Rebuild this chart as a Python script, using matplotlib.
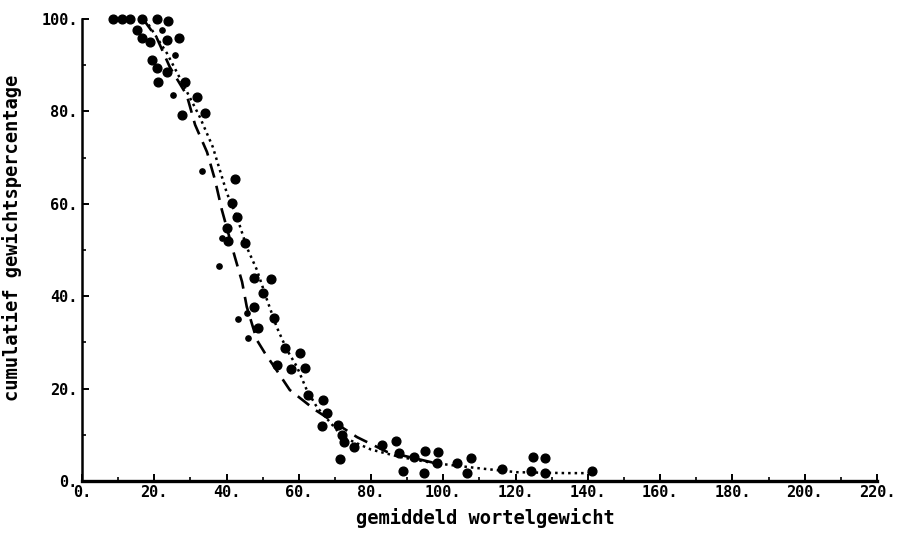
import matplotlib.pyplot as plt

# grote punten (gemeten)
big_x = [8.6, 11.1, 13.3, 16.6, 20.7, 23.8, 15.2, 16.6, 18.8, 23.5, 26.8, 19.4,
         20.7, 23.5, 21.0, 28.5, 31.8, 27.7, 34.0, 42.3, 41.5, 42.9, 40.1, 40.4,
         45.1, 47.6, 52.3, 50.1, 47.6, 53.1, 48.7, 56.2, 60.3, 53.9, 57.8, 61.7,
         62.5, 66.7, 67.8, 66.4, 70.8, 71.9, 72.5, 75.2, 71.4, 83.0, 86.9, 87.7,
         91.8, 94.9, 98.5, 88.8, 94.6, 98.2, 103.7, 107.6, 106.5, 116.2, 124.8,
         128.1, 124.2, 128.1, 141.1]
big_y = [100.0, 100.0, 100.0, 100.0, 100.0, 99.6, 97.6, 95.9, 95.0, 95.5, 95.9, 91.1,
         89.4, 88.5, 86.4, 86.4, 83.1, 79.2, 79.7, 65.4, 60.2, 57.1, 54.8, 51.9,
         51.5, 43.9, 43.7, 40.7, 37.7, 35.3, 33.1, 28.8, 27.7, 25.1, 24.2, 24.5,
         18.6, 17.5, 14.7, 11.9, 12.1, 10.0, 8.4, 7.4, 4.8, 7.8, 8.7, 6.1,
         5.2, 6.5, 6.3, 2.2, 1.7, 3.9, 3.9, 5.0, 1.7, 2.6, 5.2,
         5.0, 2.2, 1.7, 2.2]

# kleine punten
small_x = [22.1, 25.7, 25.2, 33.2, 38.7, 37.9, 45.6, 43.2, 45.9]
small_y = [97.6, 92.2, 83.5, 67.1, 52.6, 46.5, 36.4, 35.1, 31.0]

# gestreepte curve
dash_x = [16.9, 20.7, 24.3, 29.0, 31.3, 34.6, 36.8, 38.7, 42.3, 44.3, 45.6, 48.4,
          50.6, 53.4, 57.5, 64.5, 76.1, 84.4, 91.6, 97.0]
dash_y = [100.0, 95.9, 89.6, 83.5, 77.1, 71.2, 65.2, 58.7, 48.5, 43.1, 37.7, 30.5,
          27.7, 24.5, 19.7, 15.4, 9.5, 6.3, 5.0, 4.0]

# gestippelde curve
dot_x = [17.5, 18.8, 23.5, 27.1, 32.6, 36.2, 40.1, 42.9, 45.6, 48.4, 51.2, 53.9,
         56.7, 59.5, 62.2, 65.0, 72.2, 80.0, 88.0, 97.1, 109.3, 120.3, 134.2, 140.5]
dot_y = [100.0, 98.3, 92.6, 87.2, 78.8, 72.3, 62.3, 57.1, 50.6, 45.7, 39.2, 33.3,
         28.4, 24.7, 19.7, 16.0, 9.5, 6.8, 5.2, 3.9, 2.8, 1.9, 1.7, 1.7]

xticks = list(range(0, 221, 20))
yticks = list(range(0, 101, 20))

plt.rcParams['font.family'] = ['DejaVu Sans Mono']
plt.rcParams['font.weight'] = 'bold'

fig = plt.figure(figsize=(8.97, 5.54), dpi=100)
ax = fig.add_axes([0.0914, 0.1318, 0.8863, 0.8339])

ax.plot(dash_x, dash_y, color='black', lw=1.9, linestyle=(0, (5.5, 3.2)), clip_on=False)
ax.plot(dot_x, dot_y, color='black', lw=1.8, linestyle=(0, (1.0, 1.6)), clip_on=False)
ax.plot(big_x, big_y, 'o', color='black', markersize=6.3, clip_on=False)
ax.plot(small_x, small_y, 'o', color='black', markersize=3.8, clip_on=False)

ax.set_xlim(0, 220)
ax.set_ylim(0, 100)
ax.set_xticks(xticks)
ax.set_xticklabels([f'{t}.' for t in xticks])
ax.set_yticks(yticks)
ax.set_yticklabels([f'{t}.' for t in yticks])
ax.set_xticks(range(10, 220, 20), minor=True)
ax.set_yticks(range(10, 100, 20), minor=True)

for s in ['top', 'right']:
    ax.spines[s].set_visible(False)
ax.spines['bottom'].set_linewidth(2.4)
ax.spines['left'].set_linewidth(1.8)

ax.tick_params(axis='both', which='major', direction='in', length=5, width=1.4,
               labelsize=11, pad=3)
ax.tick_params(axis='both', which='minor', direction='in', length=3, width=1.2)

ax.set_xlabel('gemiddeld wortelgewicht', fontsize=13.5, fontweight='bold')
ax.set_ylabel('cumulatief gewichtspercentage', fontsize=13.5, fontweight='bold')
ax.xaxis.set_label_coords(0.508, -0.058)
ax.yaxis.set_label_coords(-0.075, 0.526)

fig.savefig('out.png', dpi=100)
